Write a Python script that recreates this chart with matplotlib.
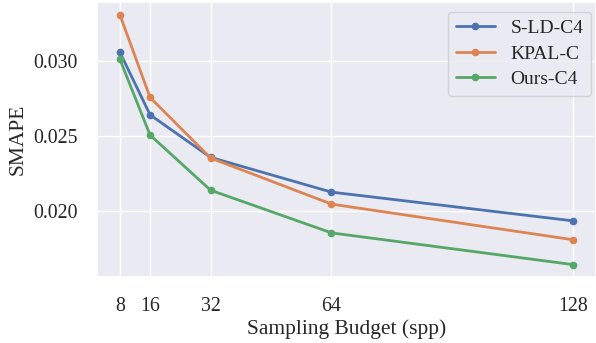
import matplotlib
matplotlib.use('Agg')
import matplotlib.pyplot as plt
import seaborn as sns

spp = [8, 16, 32, 64, 128]
sld_c4 = [0.03060, 0.02642, 0.02358, 0.02126, 0.01934]
kpal_c = [0.03311, 0.02758, 0.02354, 0.02046, 0.01808]
ours_c4 = [0.03013, 0.02507, 0.02139, 0.01854, 0.01642]

sns.set_theme(style='darkgrid')
plt.rcParams['font.family'] = ['Liberation Serif', 'DejaVu Serif']
plt.rcParams['mathtext.fontset'] = 'stix'

fig = plt.figure(figsize=(5.96, 3.43), dpi=100)
ax = fig.add_axes([0.163, 0.192, 0.837, 0.802])

ax.plot(spp, sld_c4, marker='o', markersize=4.5, linewidth=2, label='S-LD-C4')
ax.plot(spp, kpal_c, marker='o', markersize=4.5, linewidth=2, label='KPAL-C')
ax.plot(spp, ours_c4, marker='o', markersize=4.5, linewidth=2, label='Ours-C4')

ax.set_xticks(spp)
ax.set_yticks([0.020, 0.025, 0.030])
ax.tick_params(labelsize=14.3, pad=8)
ax.set_xlabel('Sampling Budget (spp)', fontsize=15.5, labelpad=3)
ax.set_ylabel('SMAPE', fontsize=15.5, labelpad=4)
ax.legend(loc='upper right', bbox_to_anchor=(1.01, 1.0), fontsize=14,
          labelspacing=0.4)

fig.savefig('out.png', dpi=100)
